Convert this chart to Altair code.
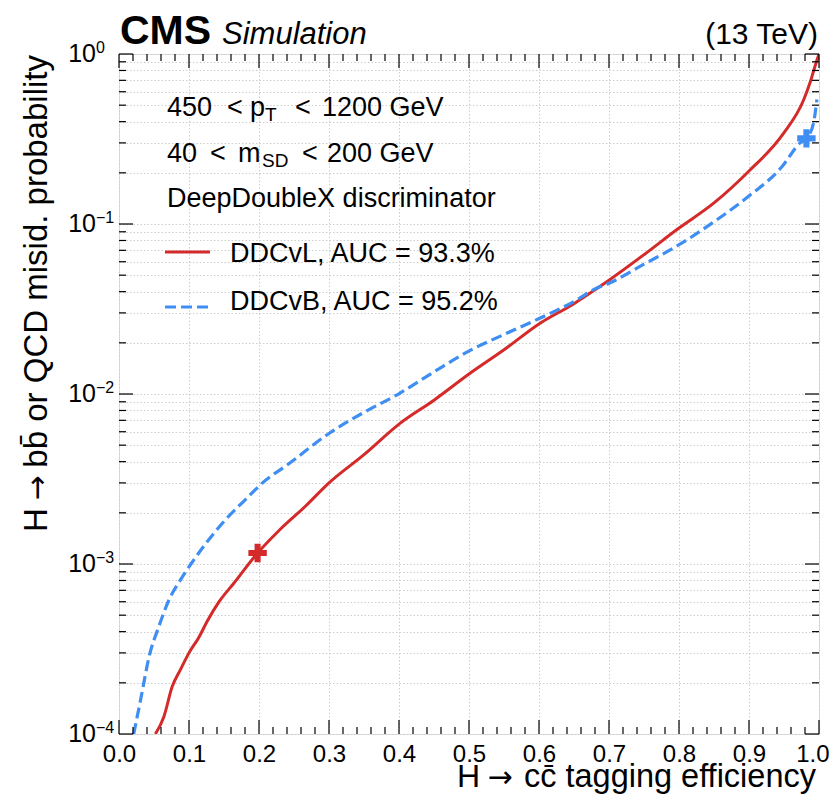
import altair as alt
import pandas as pd

FONT = "Liberation Sans"
ARROW_FONT = "DejaVu Sans"
RED = "#d42a2a"
BLUE = "#3f8ef3"

# ---- curve data ----
ddcvl_eff = [0.052, 0.064, 0.076, 0.088, 0.100, 0.114, 0.126, 0.143, 0.164, 0.198,
             0.229, 0.267, 0.300, 0.350, 0.401, 0.450, 0.501, 0.550, 0.601, 0.650,
             0.680, 0.701, 0.750, 0.799, 0.850, 0.899, 0.949, 0.978, 0.987, 0.997, 1.000]
ddcvl_mis = [1.0e-4, 1.26e-4, 1.9e-4, 2.4e-4, 3.0e-4, 3.7e-4, 4.6e-4, 6.0e-4, 7.7e-4, 1.16e-3,
             1.58e-3, 2.2e-3, 3.0e-3, 4.4e-3, 6.7e-3, 9.2e-3, 1.32e-2, 1.82e-2, 2.6e-2, 3.4e-2,
             4.1e-2, 4.7e-2, 6.6e-2, 9.4e-2, 1.33e-1, 2.03e-1, 3.4e-1, 5.36e-1, 6.75e-1, 9.2e-1, 1.0]

ddcvb_eff = [0.021, 0.031, 0.043, 0.057, 0.071, 0.088, 0.102, 0.124, 0.152, 0.181,
             0.205, 0.243, 0.301, 0.350, 0.401, 0.450, 0.501, 0.550, 0.601, 0.650,
             0.680, 0.701, 0.750, 0.799, 0.850, 0.899, 0.947, 0.973, 0.982, 0.992, 0.997]
ddcvb_mis = [1.0e-4, 1.6e-4, 2.85e-4, 4.3e-4, 6.1e-4, 8.1e-4, 9.9e-4, 1.32e-3, 1.82e-3, 2.4e-3,
             3.0e-3, 3.9e-3, 5.9e-3, 7.8e-3, 1.01e-2, 1.35e-2, 1.8e-2, 2.24e-2, 2.79e-2, 3.5e-2,
             4.15e-2, 4.5e-2, 5.8e-2, 7.5e-2, 1.03e-1, 1.45e-1, 2.17e-1, 3.0e-1, 3.19e-1, 3.9e-1, 5.4e-1]

marker_series = ["DDCvL", "DDCvB"]
marker_eff = [0.198, 0.982]
marker_mis = [1.16e-3, 0.319]

# ---- ticks and labels ----
x_major = [0.0, 0.1, 0.2, 0.3, 0.4, 0.5, 0.6, 0.7, 0.8, 0.9, 1.0]
x_minor = [round(i * 0.02, 2) for i in range(51) if i % 5]
y_major = [1e-4, 1e-3, 1e-2, 1e-1, 1.0]
y_minor = [m * 10.0 ** k for k in range(-4, 0) for m in range(2, 10)]
y_tick_base = ["10", "10", "10", "10", "10"]
y_tick_exp = ["\u22124", "\u22123", "\u22122", "\u22121", "0"]

# ---- texts ----
header_cms = "CMS"
header_sub = "Simulation"
header_energy = "(13 TeV)"
x_title = ["H", "\u2192", "cc\u0304 tagging efficiency"]
y_title = ["H", "\u2192", "bb\u0304 or QCD misid. probability"]
cut1 = ["450", "<", "p", "T", "<", "1200 GeV"]
cut2 = ["40", "<", "m", "SD", "<", "200 GeV"]
legend_title = "DeepDoubleX discriminator"
legend_entries = ["DDCvL, AUC = 93.3%", "DDCvB, AUC = 95.2%"]

W, H = 700, 680

df_l = pd.DataFrame({"eff": ddcvl_eff, "mis": ddcvl_mis})
df_b = pd.DataFrame({"eff": ddcvb_eff, "mis": ddcvb_mis})
df_m = pd.DataFrame({"series": marker_series, "eff": marker_eff, "mis": marker_mis})
df_ylab = pd.DataFrame({"v": y_major, "base": y_tick_base, "exp": y_tick_exp})

xs = alt.Scale(domain=[0, 1], nice=False, zero=False)
ys = alt.Scale(type="log", domain=[1e-4, 1], nice=False)

x_axis = alt.Axis(values=x_major, format=".1f", grid=True, gridColor="#cdcdcd",
                  gridDash=[1.5, 2], gridWidth=1, ticks=False, domain=False,
                  labelFont=FONT, labelFontSize=24, labelColor="black", labelPadding=8,
                  labelFlush=False, labelOverlap=False,
                  labelAlign=alt.condition("datum.value == 1", alt.value("right"), alt.value("center")),
                  labelOffset=alt.condition("datum.value == 1", alt.value(10), alt.value(0)),
                  title="")
y_axis = alt.Axis(values=y_major + y_minor, grid=True, gridColor="#cdcdcd",
                  gridDash=[1.5, 2], gridWidth=1, ticks=False, domain=False, labels=False,
                  title="")


def X(field):
    return alt.X(field, scale=xs, axis=x_axis)


def Y(field):
    return alt.Y(field, scale=ys, axis=y_axis)


line_l = alt.Chart(df_l).mark_line(color=RED, strokeWidth=3, clip=True, interpolate="monotone").encode(
    x=X("eff:Q"), y=Y("mis:Q"))
line_b = alt.Chart(df_b).mark_line(color=BLUE, strokeWidth=3.2, strokeDash=[11, 5], clip=True,
                                   interpolate="monotone").encode(
    x=X("eff:Q"), y=Y("mis:Q"))

PLUS = "M-0.33,-1H0.33V-0.33H1V0.33H0.33V1H-0.33V0.33H-1V-0.33H-0.33Z"
markers = alt.Chart(df_m).mark_point(shape=PLUS, filled=True, size=340, opacity=1).encode(
    x=X("eff:Q"), y=Y("mis:Q"),
    color=alt.Color("series:N", scale=alt.Scale(domain=marker_series, range=[RED, BLUE]), legend=None),
)


# inward ticks on all four sides
def xticks(vals, y0, y1):
    return alt.Chart(pd.DataFrame({"v": vals})).mark_rule(color="black", strokeWidth=1.2).encode(
        x=X("v:Q"), y=alt.value(y0), y2=alt.value(y1))


def yticks(vals, x0, x1):
    return alt.Chart(pd.DataFrame({"v": vals})).mark_rule(color="black", strokeWidth=1.2).encode(
        y=Y("v:Q"), x=alt.value(x0), x2=alt.value(x1))


ticks = [
    xticks(x_major, H, H - 14), xticks(x_minor, H, H - 7),
    xticks(x_major, 0, 14), xticks(x_minor, 0, 7),
    yticks(y_major, 0, 14), yticks(y_minor, 0, 7),
    yticks(y_major, W, W - 14), yticks(y_minor, W, W - 7),
]

# y tick labels: 10 with superscript exponent
ylab_base = alt.Chart(df_ylab).mark_text(align="right", baseline="alphabetic", font=FONT,
                                         fontSize=25, color="black", dy=8).encode(
    y=Y("v:Q"), x=alt.value(-23), text="base:N")
ylab_exp = alt.Chart(df_ylab).mark_text(align="left", baseline="alphabetic", font=FONT,
                                        fontSize=16, color="black", dy=-1).encode(
    y=Y("v:Q"), x=alt.value(-23), text="exp:N")


def label(txt, x, y, size=27, align="left", weight="normal", style="normal", angle=0, font=FONT):
    return alt.Chart(alt.Data(values=[{}])).mark_text(
        text=txt, x=x, y=y, fontSize=size, align=align, baseline="alphabetic",
        font=font, fontWeight=weight, fontStyle=style, color="black", angle=angle)


texts = [
    label(header_cms, 1, -10, size=41, weight="bold"),
    label(header_sub, 103, -10, size=31, style="italic"),
    label(header_energy, 699, -10, size=30, align="right"),
    # row 1
    label(cut1[0], 48, 62), label(cut1[1], 108, 62), label(cut1[2], 131, 62),
    label(cut1[3], 146, 67, size=19), label(cut1[4], 176, 62), label(cut1[5], 203, 62),
    # row 2
    label(cut2[0], 48, 108), label(cut2[1], 91, 108), label(cut2[2], 119, 108),
    label(cut2[3], 143, 113, size=19), label(cut2[4], 183, 108), label(cut2[5], 208, 108),
    label(legend_title, 48, 153),
    label(legend_entries[0], 111, 208),
    label(legend_entries[1], 111, 256),
    # x axis title
    label(x_title[0], 338, H + 53, size=32),
    label(x_title[1], 381, H + 53, size=30, align="center", font=ARROW_FONT),
    label(x_title[2], 697, H + 53, size=32.5, align="right"),
    # y axis title (rotated)
    label(y_title[0], -72, 478, size=33, angle=270),
    label(y_title[1], -72, 434, size=30, align="center", angle=270, font=ARROW_FONT),
    label(y_title[2], -72, 1, size=33, align="right", angle=270),
]

leg_lines = [
    alt.Chart(alt.Data(values=[{}])).mark_rule(color=RED, strokeWidth=3).encode(
        x=alt.value(46), x2=alt.value(91), y=alt.value(198)),
    alt.Chart(alt.Data(values=[{}])).mark_rule(color=BLUE, strokeWidth=3.2, strokeDash=[11, 5]).encode(
        x=alt.value(46), x2=alt.value(91), y=alt.value(253)),
]

chart = alt.layer(line_l, line_b, *ticks, markers, ylab_base, ylab_exp, *texts, *leg_lines).properties(
    width=W, height=H,
    autosize=alt.AutoSizeParams(type="none"),
    padding={"left": 111, "top": 46, "right": 11, "bottom": 60},
).configure_view(stroke="black", strokeWidth=2).configure(background="white")

chart.save("out.html", embed_options={"renderer": "svg", "actions": False})
